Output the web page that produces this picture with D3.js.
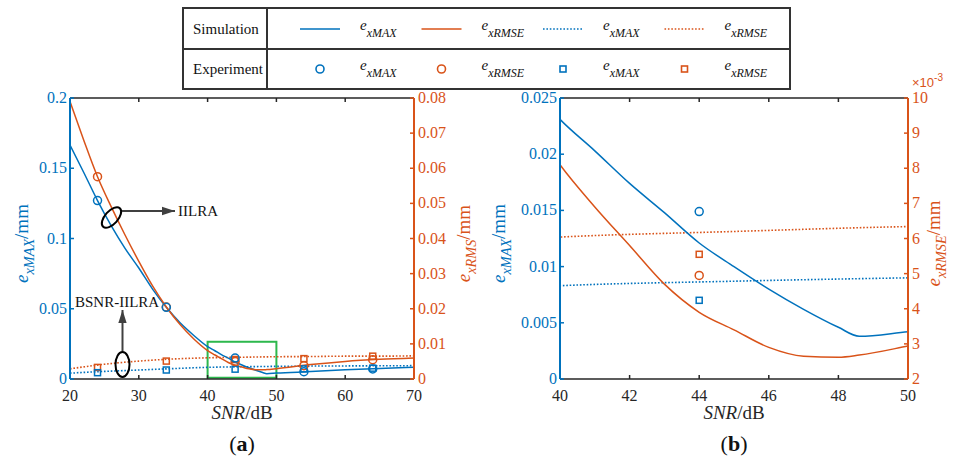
<!DOCTYPE html>
<html>
<head>
<meta charset="utf-8">
<script src="https://cdn.jsdelivr.net/npm/d3@7"></script>
<style>
  body { margin: 0; background: #fff; }
  svg text { font-family: "Liberation Serif", "DejaVu Serif", serif; }
</style>
</head>
<body>
<div id="chart"></div>
<script>
// IILRA simulation curves
var simX = [20, 22, 24, 26, 28, 30, 32, 34, 36, 38, 40, 41, 42, 43, 44, 45, 46, 47, 48, 48.6, 50, 55, 60, 65, 70];
var simMax = [0.1665, 0.147, 0.127, 0.109, 0.093, 0.079, 0.064, 0.051, 0.040, 0.031, 0.0231, 0.0203, 0.0174, 0.0148, 0.0121, 0.0100, 0.0080, 0.0062, 0.0046, 0.0038, 0.0042, 0.0053, 0.0065, 0.0075, 0.0083];
var simRmse = [0.079, 0.068, 0.0576, 0.049, 0.041, 0.0335, 0.0265, 0.0205, 0.0155, 0.0114, 0.0081, 0.0069, 0.0058, 0.0047, 0.0039, 0.0034, 0.0029, 0.00265, 0.00262, 0.00268, 0.00294, 0.0041, 0.0050, 0.0056, 0.0060];

// BSNR-IILRA simulation curves (dotted)
var bsnrX = [20, 25, 30, 35, 40, 45, 50, 55, 60, 65, 70];
var bsnrMax = [0.0042, 0.0054, 0.0064, 0.0074, 0.0083, 0.0087, 0.0090, 0.0092, 0.0093, 0.0094, 0.0095];
var bsnrRmse = [0.0029, 0.0042, 0.0051, 0.0057, 0.00604, 0.0062, 0.00634, 0.0064, 0.0065, 0.0065, 0.0066];

// experiments
var expX = [24, 34, 44, 54, 64];
var expMaxCircle = [0.127, 0.051, 0.0149, 0.0052, 0.0072];
var expRmseCircle = [0.0576, 0.0205, 0.00495, 0.0038, 0.0055];
var expMaxSquare = [0.0045, 0.0064, 0.0070, 0.0072, 0.0077];
var expRmseSquare = [0.0033, 0.0051, 0.00555, 0.0058, 0.0065];

var ticksA_x = [20, 30, 40, 50, 60, 70];
var ticksA_left = [0, 0.05, 0.1, 0.15, 0.2];
var ticksA_right = [0, 0.01, 0.02, 0.03, 0.04, 0.05, 0.06, 0.07, 0.08];
var ticksB_x = [40, 42, 44, 46, 48, 50];
var ticksB_left = [0, 0.005, 0.01, 0.015, 0.02, 0.025];
var ticksB_right = [2, 3, 4, 5, 6, 7, 8, 9, 10]; // x10^-3

var BLUE = "#0072BD", ORANGE = "#D95319", GREEN = "#2DB84D";

var svg = d3.select("#chart").append("svg")
  .attr("width", 956).attr("height", 459);

var defs = svg.append("defs");
defs.append("marker").attr("id", "arrow")
  .attr("viewBox", "0 0 10 10").attr("refX", 10).attr("refY", 5)
  .attr("markerWidth", 6.5).attr("markerHeight", 6.5).attr("orient", "auto")
  .attr("markerUnits", "strokeWidth")
  .append("path").attr("d", "M0,1.8L10,5L0,8.2z").attr("fill", "#404040");

function pts(xs, ys) { return xs.map(function(x, i){ return [x, ys[i]]; }); }

function subLabel(g, x, y, sub, rot, color, size) {
  var t = g.append("text")
    .attr("transform", "translate(" + x + "," + y + ")" + (rot ? " rotate(-90)" : ""))
    .attr("text-anchor", "middle").attr("fill", color).style("font-size", size + "px");
  t.append("tspan").style("font-style", "italic").text("e");
  t.append("tspan").style("font-style", "italic").style("font-size", (size * 0.75) + "px")
    .attr("dy", size * 0.3).text(sub);
  t.append("tspan").attr("dy", -size * 0.3).text("/mm");
}

function drawPanel(p) {
  var g = svg.append("g");
  var x = d3.scaleLinear().domain(p.xDomain).range([p.x0, p.x1]);
  var yl = d3.scaleLinear().domain(p.lDomain).range([p.y1, p.y0]);
  var yr = d3.scaleLinear().domain(p.rDomain).range([p.y1, p.y0]);

  var clipId = "clip" + p.id;
  defs.append("clipPath").attr("id", clipId).append("rect")
    .attr("x", p.x0).attr("y", p.y0).attr("width", p.x1 - p.x0).attr("height", p.y1 - p.y0);
  var plot = g.append("g").attr("clip-path", "url(#" + clipId + ")");

  var lineL = d3.line().x(function(d){ return x(d[0]); }).y(function(d){ return yl(d[1]); }).curve(d3.curveMonotoneX);
  var lineR = d3.line().x(function(d){ return x(d[0]); }).y(function(d){ return yr(d[1] * p.rMul); }).curve(d3.curveMonotoneX);

  if (p.box) {
    plot.append("rect")
      .attr("x", x(p.box[0])).attr("y", yl(p.box[3]))
      .attr("width", x(p.box[1]) - x(p.box[0])).attr("height", yl(p.box[2]) - yl(p.box[3]))
      .attr("fill", "none").attr("stroke", GREEN).attr("stroke-width", 2);
  }

  plot.append("path").datum(pts(bsnrX, bsnrMax)).attr("d", lineL)
    .attr("fill", "none").attr("stroke", BLUE).attr("stroke-width", 1.6).attr("stroke-dasharray", "1.6,1.8");
  plot.append("path").datum(pts(bsnrX, bsnrRmse)).attr("d", lineR)
    .attr("fill", "none").attr("stroke", ORANGE).attr("stroke-width", 1.6).attr("stroke-dasharray", "1.6,1.8");
  plot.append("path").datum(pts(simX, simMax)).attr("d", lineL)
    .attr("fill", "none").attr("stroke", BLUE).attr("stroke-width", 1.5);
  plot.append("path").datum(pts(simX, simRmse)).attr("d", lineR)
    .attr("fill", "none").attr("stroke", ORANGE).attr("stroke-width", 1.5);

  var ex = expX.map(function(v, i){ return i; }).filter(function(i){
    return expX[i] >= p.xDomain[0] && expX[i] <= p.xDomain[1];
  });
  var mk = g.append("g");
  mk.selectAll(".sqr").data(ex).enter().append("rect")
    .attr("x", function(i){ return x(expX[i]) - 3; }).attr("y", function(i){ return yr(expRmseSquare[i] * p.rMul) - 3; })
    .attr("width", 6).attr("height", 6).attr("fill", "none").attr("stroke", ORANGE).attr("stroke-width", 1.5);
  mk.selectAll(".sqb").data(ex).enter().append("rect")
    .attr("x", function(i){ return x(expX[i]) - 3; }).attr("y", function(i){ return yl(expMaxSquare[i]) - 3; })
    .attr("width", 6).attr("height", 6).attr("fill", "none").attr("stroke", BLUE).attr("stroke-width", 1.5);
  mk.selectAll(".cr").data(ex).enter().append("circle")
    .attr("cx", function(i){ return x(expX[i]); }).attr("cy", function(i){ return yr(expRmseCircle[i] * p.rMul); })
    .attr("r", 4).attr("fill", "none").attr("stroke", ORANGE).attr("stroke-width", 1.5);
  mk.selectAll(".cb").data(ex).enter().append("circle")
    .attr("cx", function(i){ return x(expX[i]); }).attr("cy", function(i){ return yl(expMaxCircle[i]); })
    .attr("r", 4).attr("fill", "none").attr("stroke", BLUE).attr("stroke-width", 1.5);

  // axes (MATLAB style, ticks inward)
  var ax = g.append("g");
  ax.append("line").attr("x1", p.x0).attr("x2", p.x1).attr("y1", p.y0).attr("y2", p.y0)
    .attr("stroke", "#262626").attr("stroke-width", 1.5);
  ax.append("line").attr("x1", p.x0).attr("x2", p.x1).attr("y1", p.y1).attr("y2", p.y1)
    .attr("stroke", "#262626").attr("stroke-width", 1.5);
  p.xTicks.forEach(function(t){
    ax.append("line").attr("x1", x(t)).attr("x2", x(t)).attr("y1", p.y1).attr("y2", p.y1 - 4)
      .attr("stroke", "#262626").attr("stroke-width", 1.5);
    ax.append("line").attr("x1", x(t)).attr("x2", x(t)).attr("y1", p.y0).attr("y2", p.y0 + 4)
      .attr("stroke", "#262626").attr("stroke-width", 1.5);
    ax.append("text").attr("x", x(t)).attr("y", p.y1 + 22).attr("text-anchor", "middle")
      .attr("fill", "#262626").style("font-size", "16px").text(t);
  });
  ax.append("line").attr("x1", p.x0).attr("x2", p.x0).attr("y1", p.y0).attr("y2", p.y1)
    .attr("stroke", BLUE).attr("stroke-width", 2);
  p.lTicks.forEach(function(t){
    ax.append("line").attr("x1", p.x0).attr("x2", p.x0 + 4).attr("y1", yl(t)).attr("y2", yl(t))
      .attr("stroke", BLUE).attr("stroke-width", 1.5);
    ax.append("text").attr("x", p.x0 - 3).attr("y", yl(t) + 5).attr("text-anchor", "end")
      .attr("fill", BLUE).style("font-size", "16px").text(t);
  });
  ax.append("line").attr("x1", p.x1).attr("x2", p.x1).attr("y1", p.y0).attr("y2", p.y1)
    .attr("stroke", ORANGE).attr("stroke-width", 2);
  p.rTicks.forEach(function(t){
    ax.append("line").attr("x1", p.x1).attr("x2", p.x1 - 4).attr("y1", yr(t)).attr("y2", yr(t))
      .attr("stroke", ORANGE).attr("stroke-width", 1.5);
    ax.append("text").attr("x", p.x1 + 4).attr("y", yr(t) + 5).attr("text-anchor", "start")
      .attr("fill", ORANGE).style("font-size", "16px").text(t);
  });

  subLabel(g, p.x0 - p.lOff, (p.y0 + p.y1) / 2 + 5, "xMAX", true, BLUE, 19);
  subLabel(g, p.x1 + p.rOff, (p.y0 + p.y1) / 2 + 5, p.rSub, true, ORANGE, 19);

  var xl = g.append("text").attr("x", (p.x0 + p.x1) / 2).attr("y", 419).attr("text-anchor", "middle")
    .attr("fill", "#262626").style("font-size", "19px");
  xl.append("tspan").style("font-style", "italic").text("SNR");
  xl.append("tspan").text("/dB");
  var cap = g.append("text").attr("x", (p.x0 + p.x1) / 2).attr("y", 451).attr("text-anchor", "middle")
    .attr("fill", "#111").style("font-size", "22px");
  cap.append("tspan").text("(");
  cap.append("tspan").style("font-weight", "bold").text(p.tag);
  cap.append("tspan").text(")");

  return { g: g, x: x, yl: yl };
}

var A = drawPanel({ id: "a", x0: 70, x1: 414, y0: 98, y1: 379,
  xDomain: [20, 70], lDomain: [0, 0.2], rDomain: [0, 0.08], rMul: 1,
  xTicks: ticksA_x, lTicks: ticksA_left, rTicks: ticksA_right,
  lOff: 42, rOff: 56, rSub: "xRMS", tag: "a", box: [40, 50, 0.0009, 0.0265] });

var B = drawPanel({ id: "b", x0: 560, x1: 908, y0: 98, y1: 379,
  xDomain: [40, 50], lDomain: [0, 0.025], rDomain: [2, 10], rMul: 1000,
  xTicks: ticksB_x, lTicks: ticksB_left, rTicks: ticksB_right,
  lOff: 55, rOff: 32, rSub: "xRMSE", tag: "b" });

// x10^-3 exponent label
var expo = svg.append("text").attr("x", 912).attr("y", 87).attr("fill", ORANGE)
  .style("font-family", "'Liberation Sans', Arial, sans-serif").style("font-size", "13px");
expo.append("tspan").text("\u00d710");
expo.append("tspan").attr("dy", -6).style("font-size", "10px").text("-3");

// annotations in panel (a)
var ann = svg.append("g");
ann.append("ellipse").attr("cx", 0).attr("cy", 0).attr("rx", 12.5).attr("ry", 6.5)
  .attr("transform", "translate(111.5,217.5) rotate(-48)")
  .attr("fill", "none").attr("stroke", "#000").attr("stroke-width", 2);
ann.append("line").attr("x1", 122).attr("y1", 211).attr("x2", 175).attr("y2", 211)
  .attr("stroke", "#404040").attr("stroke-width", 2).attr("marker-end", "url(#arrow)");
ann.append("text").attr("x", 178).attr("y", 216).attr("fill", "#111").style("font-size", "15px").text("IILRA");

ann.append("ellipse").attr("cx", 122.5).attr("cy", 364.5).attr("rx", 7).attr("ry", 12.5)
  .attr("fill", "none").attr("stroke", "#000").attr("stroke-width", 2);
ann.append("line").attr("x1", 122.5).attr("y1", 351).attr("x2", 122.5).attr("y2", 310)
  .attr("stroke", "#404040").attr("stroke-width", 2).attr("marker-end", "url(#arrow)");
ann.append("text").attr("x", 75).attr("y", 307).attr("fill", "#111").style("font-size", "15px").text("BSNR-IILRA");

// legend table
var lg = svg.append("g");
var T = { x0: 183, x1: 790, y0: 8, y1: 89, ym: 49, xd: 267 };
lg.append("rect").attr("x", T.x0).attr("y", T.y0).attr("width", T.x1 - T.x0).attr("height", T.y1 - T.y0)
  .attr("fill", "#fff").attr("stroke", "#333").attr("stroke-width", 2);
lg.append("line").attr("x1", T.x0).attr("x2", T.x1).attr("y1", T.ym).attr("y2", T.ym)
  .attr("stroke", "#333").attr("stroke-width", 2);
lg.append("line").attr("x1", T.xd).attr("x2", T.xd).attr("y1", T.y0).attr("y2", T.y1)
  .attr("stroke", "#333").attr("stroke-width", 2);
lg.append("text").attr("x", 193).attr("y", 34).attr("fill", "#111").style("font-size", "15px").text("Simulation");
lg.append("text").attr("x", 193).attr("y", 74).attr("fill", "#111").style("font-size", "15px").text("Experiment");

var legendItems = [
  { c: BLUE, sub: "xMAX", dash: null, mark: "circle" },
  { c: ORANGE, sub: "xRMSE", dash: null, mark: "circle" },
  { c: BLUE, sub: "xMAX", dash: "1.6,1.8", mark: "square" },
  { c: ORANGE, sub: "xRMSE", dash: "1.6,1.8", mark: "square" }
];
legendItems.forEach(function(d, i){
  var lx = 300 + i * 121.5;
  var l = lg.append("line").attr("x1", lx).attr("x2", lx + 40).attr("y1", 29).attr("y2", 29)
    .attr("stroke", d.c).attr("stroke-width", 1.6);
  if (d.dash) l.attr("stroke-dasharray", d.dash);
  if (d.mark === "circle") {
    lg.append("circle").attr("cx", lx + 20).attr("cy", 69).attr("r", 4)
      .attr("fill", "none").attr("stroke", d.c).attr("stroke-width", 1.6);
  } else {
    lg.append("rect").attr("x", lx + 17).attr("y", 66).attr("width", 6).attr("height", 6)
      .attr("fill", "none").attr("stroke", d.c).attr("stroke-width", 1.6);
  }
  [30, 70].forEach(function(yy){
    var t = lg.append("text").attr("x", lx + 60).attr("y", yy).attr("fill", "#111").style("font-size", "15px");
    t.append("tspan").style("font-style", "italic").text("e");
    t.append("tspan").style("font-style", "italic").style("font-size", "12px").attr("dy", 7).text(d.sub);
  });
});
</script>
</body>
</html>
